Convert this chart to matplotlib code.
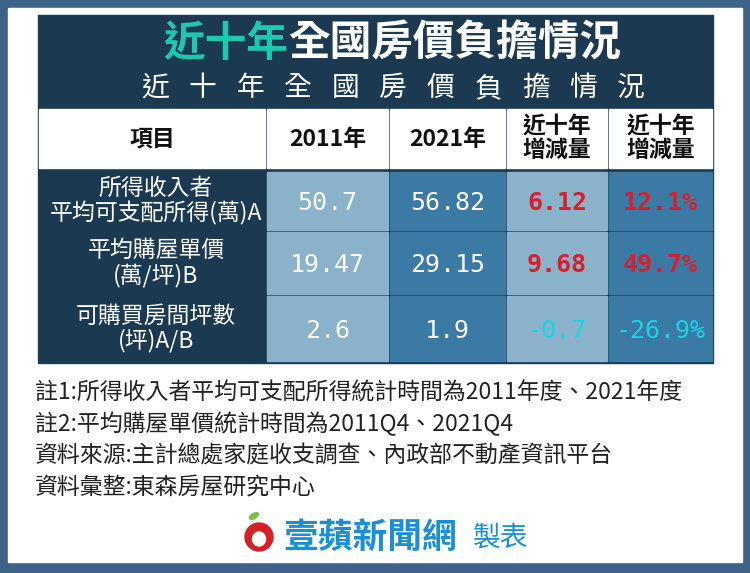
import matplotlib
matplotlib.use("Agg")
import matplotlib.pyplot as plt
from matplotlib.patches import Rectangle, Circle, Ellipse

plt.rcParams['font.family'] = ['Noto Sans CJK TC', 'DejaVu Sans']

title_hi = "近十年"
title_rest = "全國房價負擔情況"
subtitle = "近十年全國房價負擔情況"
headers = ["項目", "2011年", "2021年", "近十年\n增減量", "近十年\n增減量"]
items = ["所得收入者\n平均可支配所得(萬)A", "平均購屋單價\n(萬/坪)B", "可購買房間坪數\n(坪)A/B"]
v2011 = ["50.7", "19.47", "2.6"]
v2021 = ["56.82", "29.15", "1.9"]
diff = ["6.12", "9.68", "-0.7"]
pct = ["12.1%", "49.7%", "-26.9%"]
notes = ["註1:所得收入者平均可支配所得統計時間為2011年度、2021年度",
         "註2:平均購屋單價統計時間為2011Q4、2021Q4",
         "資料來源:主計總處家庭收支調查、內政部不動產資訊平台",
         "資料彙整:東森房屋研究中心"]

W, H = 750, 573
fig = plt.figure(figsize=(W/100, H/100), dpi=100)
ax = fig.add_axes([0, 0, 1, 1])
ax.set_xlim(0, W); ax.set_ylim(H, 0); ax.axis('off')

ax.add_patch(Rectangle((0, 0), W, H, color='#3d6389'))
ax.add_patch(Rectangle((8, 8), W-16, 554, color='white'))
navy = '#1b3a51'
ax.add_patch(Rectangle((38, 15), 675, 348, color=navy))

ax.text(288, 44, title_hi, ha='right', va='center', fontsize=30, fontweight='bold', color='#1ec8b0')
ax.text(288, 44, title_rest, ha='left', va='center', fontsize=30, fontweight='bold', color='white')
n = len(subtitle)
for i, ch in enumerate(subtitle):
    ax.text(155 + i * (476 / (n - 1)), 88, ch, ha='center', va='center', fontsize=20, color='white')

cols = [(39, 265), (267, 388), (390, 505), (507, 607), (609, 712)]
rows = [(172, 230), (232, 294), (296, 361)]
light, dark = '#8ab2cb', '#3c7aa6'
for (x0, x1), h in zip(cols, headers):
    ax.add_patch(Rectangle((x0, 109), x1-x0, 59, color='white'))
    ax.text((x0+x1)/2, 139, h, ha='center', va='center', fontsize=16.5, fontweight='bold',
            color='#111111', linespacing=1.05)

for r, (y0, y1) in enumerate(rows):
    cy = (y0+y1)/2
    ax.text((cols[0][0]+cols[0][1])/2 + 4, cy, items[r], ha='center', va='center',
            fontsize=16.5, color='white', linespacing=1.05)
    vals = [v2011[r], v2021[r], diff[r], pct[r]]
    for c, v in enumerate(vals):
        x0, x1 = cols[c+1]
        ax.add_patch(Rectangle((x0, y0), x1-x0, y1-y0, color=light if c % 2 == 0 else dark))
        if c >= 2:
            col = '#d8202a' if not v.startswith('-') else '#19d3e6'
            fw = 'bold' if not v.startswith('-') else 'normal'
        else:
            col, fw = 'white', 'normal'
        ax.text((x0+x1)/2, cy + 2, v, ha='center', va='center', fontsize=18, color=col,
                fontweight=fw, family=['DejaVu Sans Mono'])

for i, t in enumerate(notes):
    ax.text(35, 393 + i*31.5, t, ha='left', va='center', fontsize=16.5, color='#222222')

# logo
ax.add_patch(Circle((259, 537), 14, color='#d42126'))
ax.add_patch(Ellipse((259, 539), 13, 14, color='white'))
ax.add_patch(Ellipse((254, 516), 10, 5, angle=-30, color='#7cc142'))
ax.text(283, 537, "壹蘋新聞網", ha='left', va='center', fontsize=25, fontweight='bold',
        fontstyle='italic', color='#1a8fd6')
ax.text(473, 537, "製表", ha='left', va='center', fontsize=20, color='#1a8fd6')

fig.savefig('out.png', dpi=100)
